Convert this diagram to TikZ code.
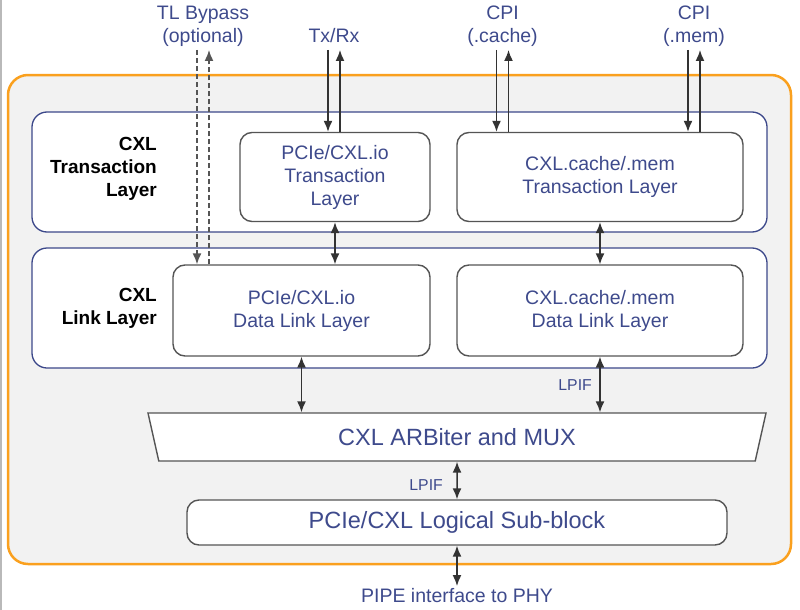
\documentclass[tikz,border=0pt]{standalone}
\usepackage{fontspec}
\setmainfont{Liberation Sans}
\usepackage{tikz}
\usetikzlibrary{arrows.meta,shapes.geometric}

\definecolor{cxlblue}{RGB}{62,74,140}
\definecolor{bandblue}{RGB}{60,72,138}
\definecolor{boxgray}{RGB}{85,85,85}
\definecolor{arrgray}{RGB}{51,51,51}
\definecolor{cxlorange}{RGB}{250,160,30}
\definecolor{bggray}{RGB}{242,242,242}

\begin{document}
\begin{tikzpicture}[x=1pt,y=-1pt,
    band/.style={draw=bandblue,line width=1.3pt,fill=white,rounded corners=15pt,
      minimum width=735pt,minimum height=120pt},
    blk/.style={draw=boxgray,line width=1.4pt,fill=white,rounded corners=12pt,
      text=cxlblue,align=center,font=\fontsize{19.5}{23}\selectfont},
    lbl/.style={text=cxlblue,align=center,inner sep=0pt,font=\fontsize{19.5}{23}\selectfont},
    side/.style={align=right,anchor=east,inner sep=0pt,font=\bfseries\fontsize{19}{23}\selectfont},
    lpif/.style={text=cxlblue,anchor=east,inner sep=0pt,font=\fontsize{15.8}{18}\selectfont},
    arr/.style={draw=arrgray,line width=1.5pt,-{Latex[length=11pt,width=9pt]}},
    dbl/.style={draw=arrgray,line width=1.5pt,{Latex[length=11pt,width=9pt]}-{Latex[length=11pt,width=9pt]}},
    bypass/.style={arr,draw=boxgray,dash pattern=on 5pt off 3pt}]
    \useasboundingbox (0,0) rectangle (800,610);
    \draw[gray!55,line width=1.5pt] (1,0) -- (1,610);

    \draw[draw=cxlorange,line width=2.5pt,fill=bggray,rounded corners=20pt] (8,75) rectangle (791,564);

    \node[band] (tlay) at (399.5,172) {};
    \node[band] (llay) at (399.5,308) {};
    \node[side] (tlname) at (157,169) {CXL\\Transaction\\Layer};
    \node[side] (llname) at (157,308.5) {CXL\\Link Layer};

    \node[blk,minimum width=190pt,minimum height=89pt] (iotl) at (335,177) {PCIe/CXL.io\\Transaction\\Layer};
    \node[blk,minimum width=286pt,minimum height=89pt] (cmtl) at (600,177) {CXL.cache/.mem\\Transaction Layer};
    \node[blk,minimum width=257pt,minimum height=91pt] (iodl) at (301.5,310.5) {PCIe/CXL.io\\Data Link Layer};
    \node[blk,minimum width=286pt,minimum height=91pt] (cmdl) at (600,310.5) {CXL.cache/.mem\\Data Link Layer};

    \node[blk,trapezium,rounded corners=0pt,trapezium left angle=122,trapezium right angle=122,
      trapezium stretches body,minimum width=618pt,minimum height=48pt,inner sep=0pt,
      font=\fontsize{23.5}{28}\selectfont] (arb) at (457,437) {CXL ARBiter and MUX};
    \node[blk,minimum width=540pt,minimum height=45pt,font=\fontsize{23.5}{28}\selectfont] (logic) at (457,522.5) {PCIe/CXL Logical Sub-block};

    \node[lbl,anchor=south] (byp) at (203,50) {TL Bypass\\(optional)\strut};
    \node[lbl,anchor=south] (trx) at (334,50) {Tx/Rx\strut};
    \node[lbl,anchor=south] (cpic) at (502.5,50) {CPI\\(.cache)\strut};
    \node[lbl,anchor=south] (cpim) at (694,50) {CPI\\(.mem)\strut};
    \node[lbl,anchor=north] (pipe) at (457,586) {PIPE interface to PHY\strut};

    \draw[bypass] ([xshift=-6pt]byp.south) -- ([xshift=-6pt]byp.south |- iodl.north);
    \draw[bypass] ([xshift=6pt]byp.south |- iodl.north) -- ([xshift=6pt]byp.south);
    \draw[arr] ([xshift=-6pt]trx.south) -- ([xshift=-6pt]trx.south |- iotl.north);
    \draw[arr] ([xshift=6pt]trx.south |- iotl.north) -- ([xshift=6pt]trx.south);
    \draw[arr] ([xshift=-6pt]cpic.south) -- ([xshift=-6pt]cpic.south |- cmtl.north);
    \draw[arr] ([xshift=6pt]cpic.south |- cmtl.north) -- ([xshift=6pt]cpic.south);
    \draw[arr] ([xshift=-6pt]cpim.south) -- ([xshift=-6pt]cpim.south |- cmtl.north);
    \draw[arr] ([xshift=6pt]cpim.south |- cmtl.north) -- ([xshift=6pt]cpim.south);

    \draw[dbl] (iotl.south) -- (iotl.south |- iodl.north);
    \draw[dbl] (cmtl.south) -- (cmdl.north);
    \draw[dbl] (iodl.south) -- (iodl.south |- arb.north);
    \draw[dbl] (cmdl.south) -- (cmdl.south |- arb.north);
    \draw[dbl] (arb.south) -- (logic.north);
    \draw[dbl] (logic.south) -- (pipe.north);

    \node[lpif] (lpifa) at (592,385) {LPIF};
    \node[lpif] (lpifb) at (443,485) {LPIF};
\end{tikzpicture}
\end{document}
